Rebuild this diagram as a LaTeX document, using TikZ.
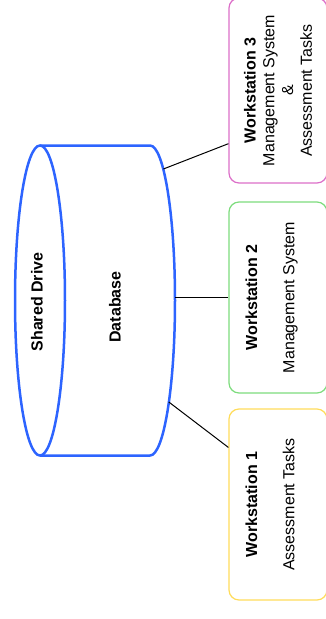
\documentclass[tikz,border=0pt]{standalone}
\usepackage{fontspec}
\setmainfont{Liberation Sans}
\definecolor{drvblue}{RGB}{45,100,255}
\definecolor{wsyellow}{RGB}{255,220,90}
\definecolor{wsgreen}{RGB}{125,220,125}
\definecolor{wspink}{RGB}{220,110,200}

\begin{document}
\begin{tikzpicture}[x=1pt,y=1pt,yscale=-1,xscale=1,
  wsbox/.style={draw=#1, line width=1.2pt, rounded corners=10pt, rotate=90, align=center,
    font=\fontsize{16}{18.7}\selectfont, minimum width=191pt, minimum height=98pt, inner sep=0pt},
  dbtext/.style={rotate=90, inner sep=0pt, font=\fontsize{16}{19}\selectfont\bfseries},
  drive/.style={draw=drvblue, line width=2.5pt},
  link/.style={draw=black, line width=1pt}]
\useasboundingbox (0,0) rectangle (325,619);

%Shape: Cylinder body
\draw [drive, fill=white] (40,145.5) -- (150,145.5) arc [start angle=-90, end angle=90, x radius=25, y radius=155] -- (40,455.5);
%Shape: Cylinder end
\draw [drive, fill=white] (40,300.5) ellipse [x radius=25, y radius=155];

% Text Node
\node [dbtext] (shared) at (37,302) {Shared Drive};
% Text Node
\node [dbtext] (dbase) at (115,307) {Database};

% taps on the drive
\coordinate (tap3) at (163.4,169);
\coordinate (tap2) at (175,297.5);
\coordinate (tap1) at (168.8,402);

%Shape: Rounded Rectangle
\node [wsbox=wspink, minimum width=185pt] (ws3) at (278,90.5) {\textbf{Workstation 3}\\Management System\\\&\\Assessment Tasks};
%Shape: Rounded Rectangle
\node [wsbox=wsgreen, text depth=16pt] (ws2) at (278,297.5) {\textbf{Workstation 2}\\ \\Management System};
%Shape: Rounded Rectangle
\node [wsbox=wsyellow, text depth=16pt] (ws1) at (278,504.5) {\textbf{Workstation 1}\\ \\Assessment Tasks};

%Straight Lines
\draw [link] (tap3) -- (ws3.137);
\draw [link] (tap2) -- (ws2.north);
\draw [link] (tap1) -- (ws1.41.4);

\end{tikzpicture}
\end{document}
